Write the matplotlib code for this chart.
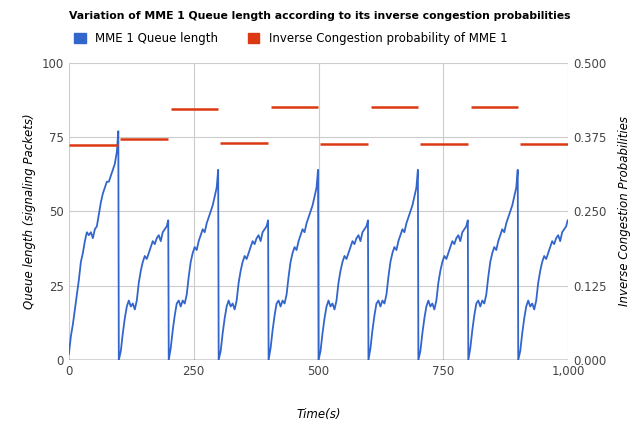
import numpy as np
import matplotlib.pyplot as plt
from matplotlib.patches import Patch

# sample times within each 100 s cycle
offsets = [0, 4, 8, 12, 16, 20, 24, 28, 32, 36, 40, 44, 48, 52, 56, 60, 64, 68, 72, 76, 80, 84, 88, 92, 96, 99]

cycle1 = [2, 8, 12, 17, 22, 27, 33, 36, 40, 43, 42, 43, 41, 44, 45, 49, 53, 56, 58, 60, 60, 62, 64, 66, 70, 77]
cycle_even = [0, 3, 9, 14, 18, 20, 18, 19, 17, 20, 26, 30, 33, 35, 34, 36, 38, 40, 39, 41, 42, 40, 43, 44, 45, 47]
cycle_odd = [0, 4, 10, 15, 19, 20, 18, 20, 19, 22, 28, 33, 36, 38, 37, 40, 42, 44, 43, 46, 48, 50, 52, 55, 58, 64]

prob_start = [0, 102, 205, 302, 405, 503, 605, 703, 805, 903]
prob_end = [98, 198, 299, 399, 499, 599, 699, 799, 899, 999]
prob_vals = [0.362, 0.372, 0.423, 0.365, 0.426, 0.364, 0.426, 0.364, 0.426, 0.364]

blue = '#3366cc'
red = '#dc3912'

t, q = [], []
for k in range(10):
    vals = cycle1 if k == 0 else (cycle_even if k % 2 == 1 else cycle_odd)
    t += [100 * k + o for o in offsets]
    q += vals

fig = plt.figure(figsize=(6.32, 4.28), dpi=100)
ax = fig.add_axes([0.109, 0.159, 0.79, 0.694])
ax.plot(t, q, color=blue, lw=1.3)
ax.set_xlim(0, 1000)
ax.set_ylim(0, 100)
ax.set_xticks([0, 250, 500, 750, 1000])
ax.set_xticklabels(['0', '250', '500', '750', '1,000'])
ax.set_yticks([0, 25, 50, 75, 100])
ax.grid(True, color='#cccccc', lw=0.8)
ax.set_axisbelow(True)
for s in ax.spines.values():
    s.set_visible(False)
ax.axhline(0, color='#333333', lw=1)
ax.tick_params(length=0, colors='#444444', labelsize=8.5)
ax.set_xlabel('Time(s)', style='italic', fontsize=8.5, labelpad=22)
ax.set_ylabel('Queue length (signaling Packets)', style='italic', fontsize=8.5)

ax2 = ax.twinx()
ax2.hlines(prob_vals, prob_start, prob_end, color=red, lw=1.8)
ax2.set_ylim(0, 0.5)
ax2.set_yticks([0, 0.125, 0.25, 0.375, 0.5])
ax2.set_yticklabels(['0.000', '0.125', '0.250', '0.375', '0.500'])
for s in ax2.spines.values():
    s.set_visible(False)
ax2.tick_params(length=0, colors='#444444', labelsize=8.5)
ax2.set_ylabel('Inverse Congestion Probabilities', style='italic', fontsize=8.5, labelpad=8)

fig.text(0.109, 0.955, 'Variation of MME 1 Queue length according to its inverse congestion probabilities',
         fontsize=7.8, fontweight='bold')
fig.legend(handles=[Patch(color=blue, label='MME 1 Queue length'),
                    Patch(color=red, label='Inverse Congestion probability of MME 1')],
           loc='upper left', bbox_to_anchor=(0.1, 0.95), ncol=2, frameon=False,
           fontsize=8.5, handlelength=1, handleheight=1, columnspacing=2.5)
fig.savefig('out.png')
